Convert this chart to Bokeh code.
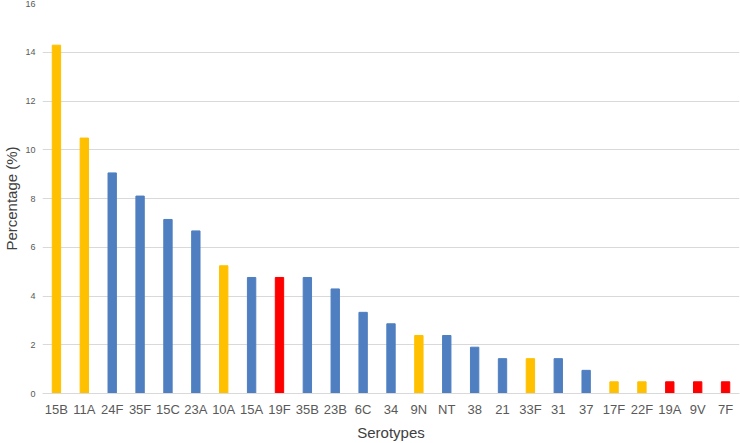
from bokeh.plotting import figure
from bokeh.models import ColumnDataSource, Range1d, FixedTicker
from bokeh.embed import file_html
from bokeh.resources import INLINE

serotypes = ["15B", "11A", "24F", "35F", "15C", "23A", "10A", "15A", "19F", "35B",
             "23B", "6C", "34", "9N", "NT", "38", "21", "33F", "31", "37",
             "17F", "22F", "19A", "9V", "7F"]
percent = [14.29, 10.48, 9.05, 8.10, 7.14, 6.67, 5.24, 4.76, 4.76, 4.76,
           4.29, 3.33, 2.86, 2.38, 2.38, 1.90, 1.43, 1.43, 1.43, 0.95,
           0.48, 0.48, 0.48, 0.48, 0.48]
group = ["y", "y", "b", "b", "b", "b", "y", "b", "r", "b",
         "b", "b", "b", "y", "b", "b", "b", "y", "b", "b",
         "y", "y", "r", "r", "r"]
palette = {"y": "#FFC000", "b": "#4F7FC0", "r": "#FF0000"}
y_ticks = [0, 2, 4, 6, 8, 10, 12, 14, 16]

src = ColumnDataSource(dict(x=serotypes, top=percent,
                            color=[palette[g] for g in group]))

p = figure(x_range=serotypes, y_range=Range1d(0, 16), width=740, height=443,
           output_backend="svg", toolbar_location=None,
           min_border_left=0, min_border_right=1, min_border_top=3,
           min_border_bottom=0)
p.vbar(x="x", top="top", width=0.3, color="color", source=src)

p.outline_line_color = None
p.xgrid.grid_line_color = None
p.ygrid.grid_line_color = "#D9D9D9"
p.ygrid.grid_line_width = 1
p.yaxis.ticker = FixedTicker(ticks=y_ticks)
p.yaxis.axis_line_color = None
p.yaxis.major_tick_line_color = None
p.yaxis.minor_tick_line_color = None
p.yaxis.major_tick_out = 0
p.yaxis.major_label_text_font = "Liberation Sans"
p.yaxis.major_label_text_font_size = "9px"
p.yaxis.major_label_text_color = "#595959"
p.yaxis.major_label_standoff = 7
p.yaxis.axis_label = "Percentage (%)"
p.yaxis.axis_label_text_font = "Liberation Sans"
p.yaxis.axis_label_text_font_style = "normal"
p.yaxis.axis_label_text_font_size = "15px"
p.yaxis.axis_label_text_color = "#404040"
p.yaxis.axis_label_standoff = 2

p.xaxis.axis_line_color = "#D9D9D9"
p.xaxis.major_tick_line_color = None
p.xaxis.minor_tick_line_color = None
p.xaxis.major_tick_out = 0
p.xaxis.major_tick_in = 0
p.xaxis.major_label_text_font = "Liberation Sans"
p.xaxis.major_label_text_font_size = "13px"
p.xaxis.major_label_text_color = "#595959"
p.xaxis.major_label_standoff = 8
p.xaxis.axis_label = "Serotypes"
p.xaxis.axis_label_text_font = "Liberation Sans"
p.xaxis.axis_label_text_font_style = "normal"
p.xaxis.axis_label_text_font_size = "15px"
p.xaxis.axis_label_text_color = "#404040"
p.xaxis.axis_label_standoff = 4

open("out.html", "w").write(file_html(p, INLINE))
